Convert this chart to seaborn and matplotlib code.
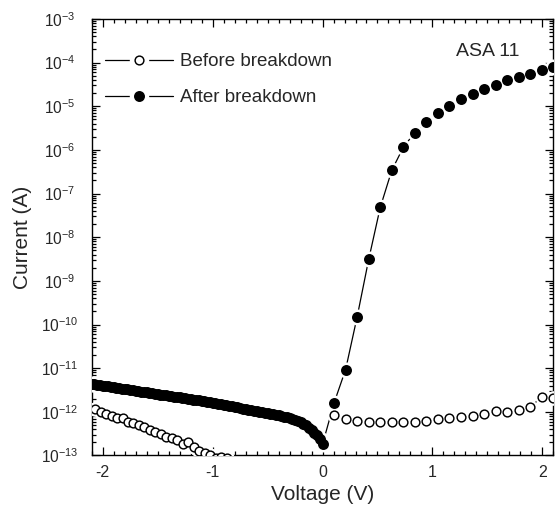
import matplotlib
matplotlib.use('Agg')
import matplotlib.pyplot as plt
import seaborn as sns
from matplotlib.lines import Line2D
from matplotlib.legend_handler import HandlerTuple
from matplotlib.ticker import MultipleLocator, LogLocator, NullFormatter, LogFormatterSciNotation

# ---------------- data ----------------
# After breakdown, negative bias (dense sweep)
v_after_neg = [-2.100, -2.075, -2.050, -2.025, -2.000, -1.975, -1.950, -1.925, -1.900, -1.875,
               -1.850, -1.825, -1.800, -1.775, -1.750, -1.725, -1.700, -1.675, -1.650, -1.625,
               -1.600, -1.575, -1.550, -1.525, -1.500, -1.475, -1.450, -1.425, -1.400, -1.375,
               -1.350, -1.325, -1.300, -1.275, -1.250, -1.225, -1.200, -1.175, -1.150, -1.125,
               -1.100, -1.075, -1.050, -1.025, -1.000, -0.975, -0.950, -0.925, -0.900, -0.875,
               -0.850, -0.825, -0.800, -0.775, -0.750, -0.725, -0.700, -0.675, -0.650, -0.625,
               -0.600, -0.575, -0.550, -0.525, -0.500, -0.475, -0.450, -0.425, -0.400, -0.375,
               -0.350, -0.325, -0.300, -0.275, -0.250, -0.225, -0.200, -0.175, -0.150, -0.125,
               -0.100, -0.075, -0.050, -0.025]
i_after_neg = [4.37e-12, 4.27e-12, 4.18e-12, 4.08e-12, 3.99e-12, 3.90e-12, 3.82e-12, 3.73e-12, 3.65e-12, 3.57e-12,
               3.49e-12, 3.41e-12, 3.34e-12, 3.26e-12, 3.19e-12, 3.12e-12, 3.05e-12, 2.99e-12, 2.92e-12, 2.85e-12,
               2.79e-12, 2.73e-12, 2.67e-12, 2.61e-12, 2.55e-12, 2.49e-12, 2.44e-12, 2.39e-12, 2.33e-12, 2.28e-12,
               2.23e-12, 2.18e-12, 2.13e-12, 2.09e-12, 2.04e-12, 2.00e-12, 1.95e-12, 1.91e-12, 1.87e-12, 1.82e-12,
               1.79e-12, 1.75e-12, 1.70e-12, 1.65e-12, 1.61e-12, 1.56e-12, 1.52e-12, 1.48e-12, 1.44e-12, 1.40e-12,
               1.36e-12, 1.33e-12, 1.29e-12, 1.26e-12, 1.22e-12, 1.19e-12, 1.16e-12, 1.13e-12, 1.10e-12, 1.07e-12,
               1.04e-12, 1.01e-12, 9.84e-13, 9.57e-13, 9.31e-13, 9.06e-13, 8.79e-13, 8.51e-13, 8.24e-13, 7.98e-13,
               7.73e-13, 7.48e-13, 7.24e-13, 6.89e-13, 6.55e-13, 6.22e-13, 5.75e-13, 5.31e-13, 4.90e-13, 4.32e-13,
               3.80e-13, 3.31e-13, 2.88e-13, 2.40e-13]

# After breakdown, positive bias
v_after_pos = [0.000, 0.105, 0.210, 0.315, 0.420, 0.525, 0.630, 0.735, 0.840, 0.945, 1.050,
               1.155, 1.260, 1.365, 1.470, 1.575, 1.680, 1.785, 1.890, 1.995, 2.100]
i_after_pos = [1.8e-13, 1.6e-12, 9.3e-12, 1.5e-10, 3.1e-9, 4.8e-8, 3.4e-7, 1.15e-6, 2.5e-6, 4.4e-6, 6.9e-6,
               1.03e-5, 1.44e-5, 1.9e-5, 2.5e-5, 3.1e-5, 3.95e-5, 4.6e-5, 5.5e-5, 6.7e-5, 8.1e-5]

# Before breakdown, negative bias
v_before_neg = [-2.07, -2.02, -1.97, -1.92, -1.87, -1.82, -1.77, -1.72, -1.67, -1.62, -1.57, -1.52, -1.47,
                -1.42, -1.37, -1.32, -1.27, -1.22, -1.17, -1.12, -1.07, -1.02, -0.97, -0.92, -0.87]
i_before_neg = [1.15e-12, 1.0e-12, 8.9e-13, 7.9e-13, 7.4e-13, 7.1e-13, 6.0e-13, 5.5e-13, 5.0e-13, 4.5e-13,
                3.8e-13, 3.4e-13, 3.1e-13, 2.7e-13, 2.45e-13, 2.26e-13, 1.83e-13, 2.07e-13, 1.54e-13, 1.29e-13,
                1.12e-13, 1.0e-13, 8.8e-14, 9.0e-14, 8.6e-14]

# Before breakdown, positive bias
v_before_pos = [0.105, 0.210, 0.315, 0.420, 0.525, 0.630, 0.735, 0.840, 0.945, 1.050,
                1.155, 1.260, 1.365, 1.470, 1.575, 1.680, 1.785, 1.890, 1.995, 2.100]
i_before_pos = [8.5e-13, 6.7e-13, 6.2e-13, 6.0e-13, 6.0e-13, 6.0e-13, 6.0e-13, 6.0e-13, 6.3e-13, 6.7e-13,
                7.1e-13, 7.8e-13, 8.0e-13, 8.9e-13, 1.06e-12, 1.01e-12, 1.1e-12, 1.27e-12, 2.23e-12, 2.04e-12]

series_labels = ["Before breakdown", "After breakdown"]
annotation = "ASA 11"
x_label = "Voltage (V)"
y_label = "Current (A)"

# ---------------- style ----------------
sns.set_theme(style='ticks')
plt.rcParams['font.family'] = ['Liberation Sans', 'DejaVu Sans']
plt.rcParams['axes.unicode_minus'] = False
plt.rcParams['mathtext.fontset'] = 'custom'
plt.rcParams['mathtext.rm'] = 'Liberation Sans'
plt.rcParams['mathtext.it'] = 'Liberation Sans:italic'
plt.rcParams['mathtext.bf'] = 'Liberation Sans:bold'

fig = plt.figure(figsize=(5.6, 5.18), dpi=100)
ax = fig.add_axes([0.1638, 0.1207, 0.8243, 0.8427])
ax.set_yscale('log')

v_before = v_before_neg + v_before_pos
i_before = i_before_neg + i_before_pos
v_after = v_after_neg + v_after_pos
i_after = i_after_neg + i_after_pos

common = dict(ax=ax, estimator=None, sort=False, legend=False)
# connecting lines
sns.lineplot(x=v_before_neg, y=i_before_neg, color='black', lw=0.9, zorder=2, **common)
sns.lineplot(x=v_before_pos, y=i_before_pos, color='black', lw=0.9, zorder=2, **common)
sns.lineplot(x=v_after, y=i_after, color='black', lw=0.9, zorder=2, **common)
# white halos (gap between line and markers)
sns.lineplot(x=v_before, y=i_before, linestyle='none', marker='o', ms=10.5,
             mfc='white', mec='white', mew=0, zorder=3, **common)
sns.lineplot(x=v_after, y=i_after, linestyle='none', marker='o', ms=11.5,
             mfc='white', mec='white', mew=0, zorder=3, **common)
# markers
sns.lineplot(x=v_before, y=i_before, linestyle='none', marker='o', ms=6.3,
             mfc='white', mec='black', mew=1.05, zorder=4, **common)
sns.lineplot(x=v_after, y=i_after, linestyle='none', marker='o', ms=7.9,
             mfc='black', mec='black', mew=0, zorder=5, **common)

ax.set_xlim(-2.1, 2.1)
ax.set_ylim(1e-13, 1e-3)

ax.xaxis.set_major_locator(MultipleLocator(1))
ax.xaxis.set_minor_locator(MultipleLocator(0.1))
ax.yaxis.set_major_locator(LogLocator(base=10, numticks=20))
ax.yaxis.set_minor_locator(LogLocator(base=10, subs=[2, 3, 4, 5, 6, 7, 8, 9], numticks=20))
ax.yaxis.set_major_formatter(LogFormatterSciNotation())
ax.yaxis.set_minor_formatter(NullFormatter())

for s in ax.spines.values():
    s.set_linewidth(1.0)
    s.set_color('black')
ax.tick_params(which='both', direction='in', top=True, right=True, color='black', width=0.9)
ax.tick_params(which='major', length=6)
ax.tick_params(which='minor', length=3)
ax.tick_params(axis='x', which='major', labelsize=11.5, pad=7)
ax.tick_params(axis='y', which='major', labelsize=11.2, pad=22.8)
for lab in ax.get_yticklabels():
    lab.set_horizontalalignment('center')

ax.set_xlabel(x_label, fontsize=15)
ax.set_ylabel(y_label, fontsize=15)
ax.xaxis.set_label_coords(0.5, -0.068)
ax.yaxis.set_label_coords(-0.130, 0.5)

ax.text(0.857, 0.926, annotation, transform=ax.transAxes, ha='center', va='center', fontsize=14)

# legend with gapped line/marker handles
h_before = (Line2D([], [], color='black', lw=0.9),
            Line2D([], [], ls='none', marker='o', ms=14, mfc='white', mec='white', mew=0),
            Line2D([], [], ls='none', marker='o', ms=6.3, mfc='white', mec='black', mew=1.05))
h_after = (Line2D([], [], color='black', lw=0.9),
           Line2D([], [], ls='none', marker='o', ms=14, mfc='white', mec='white', mew=0),
           Line2D([], [], ls='none', marker='o', ms=7.9, mfc='black', mec='black', mew=0))
leg = ax.legend([h_before, h_after], series_labels,
                handler_map={tuple: HandlerTuple(ndivide=1)},
                loc='upper left', bbox_to_anchor=(0.0288, 0.922),
                frameon=False, fontsize=13.5, handlelength=3.64, handletextpad=0.36,
                labelspacing=1.01, borderpad=0, borderaxespad=0)

fig.savefig('out.png', dpi=100)
